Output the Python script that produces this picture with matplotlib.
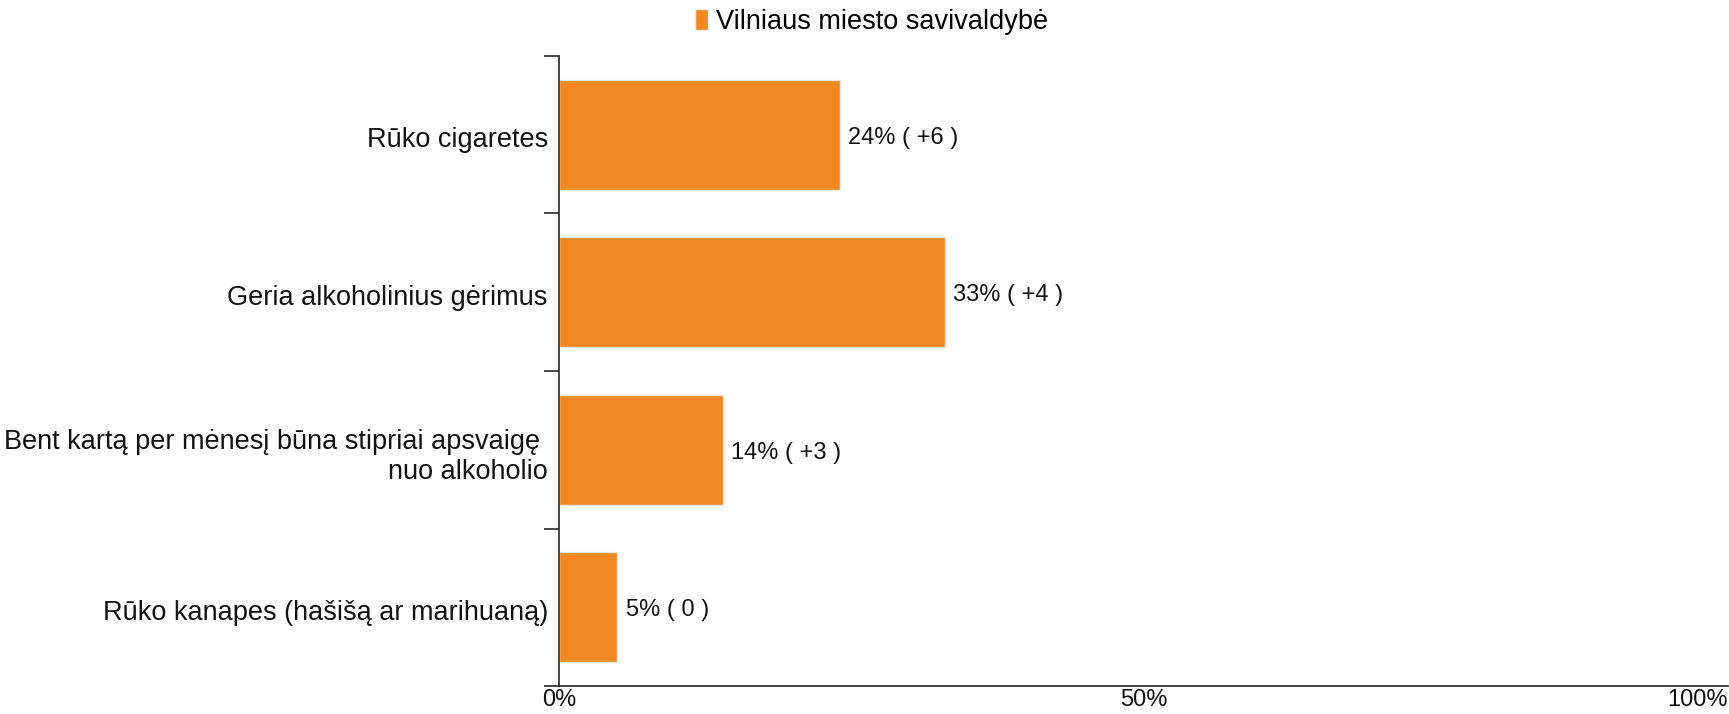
import matplotlib
matplotlib.use("Agg")
import matplotlib.pyplot as plt
from matplotlib.patches import Patch
from matplotlib.transforms import ScaledTranslation

plt.rcParams['font.family'] = ['Liberation Sans', 'DejaVu Sans']

# data, top to bottom as in the chart
categories = [
    "Rūko cigaretes",
    "Geria alkoholinius gėrimus",
    "Bent kartą per mėnesį būna stipriai apsvaigę \nnuo alkoholio",
    "Rūko kanapes (hašišą ar marihuaną)",
]
values = [24, 33, 14, 5]
changes = ["+6", "+4", "+3", "0"]
series_name = "Vilniaus miesto savivaldybė"
x_ticks = [0, 50, 100]
x_tick_labels = ["0%", "50%", "100%"]

bar_color = "#EF8823"
axis_color = "#262626"

fig = plt.figure(figsize=(17.29, 7.14), dpi=100)
ax = fig.add_axes([0.3233, 0.0392, 0.6762, 0.8824])

n = len(categories)
ypos = list(range(n))
ax.barh(ypos, values, height=0.7, color=bar_color, edgecolor="#e6e6e6", linewidth=1.0)

# value labels, baseline a little below the bar centre
for y, v, c in zip(ypos, values, changes):
    ax.annotate(f"{v}% ( {c} )", xy=(v, y), xytext=(6, -6.6), textcoords="offset points",
                ha="left", va="baseline", fontsize=17, color="#111111")

ax.set_ylim(n - 0.5, -0.5)
ax.set_xlim(0, 100)

# category labels at centres, tick marks at band boundaries
ax.set_yticks(ypos)
ax.set_yticklabels(categories, fontsize=19.5, color="#111111")
ax.set_yticks([i - 0.5 for i in range(n + 1)], minor=True)
ax.tick_params(axis="y", which="major", length=0, pad=8)
ax.tick_params(axis="y", which="minor", length=11, width=1.2, color=axis_color)

ax.set_xticks(x_ticks)
ax.set_xticklabels(x_tick_labels, fontsize=17, color="#111111")
ax.tick_params(axis="x", length=0, pad=2)
ax.get_xticklabels()[-1].set_ha("right")

for side in ["top", "right"]:
    ax.spines[side].set_visible(False)
for side in ["left", "bottom"]:
    ax.spines[side].set_color(axis_color)
    ax.spines[side].set_linewidth(1.2)

handle = Patch(facecolor=bar_color, edgecolor="#e6e6e6")
fig.legend([handle], [series_name], loc="center", bbox_to_anchor=(0.504, 0.969),
           frameon=False, fontsize=19.5, handlelength=0.5, handleheight=0.8,
           handletextpad=0.3, borderpad=0)

# nudge category labels down a few pixels
shift = ScaledTranslation(0, -0.025, fig.dpi_scale_trans)
for tick in ax.yaxis.get_major_ticks():
    tick.label1.set_transform(tick.label1.get_transform() + shift)

fig.savefig("out.png", dpi=100)
